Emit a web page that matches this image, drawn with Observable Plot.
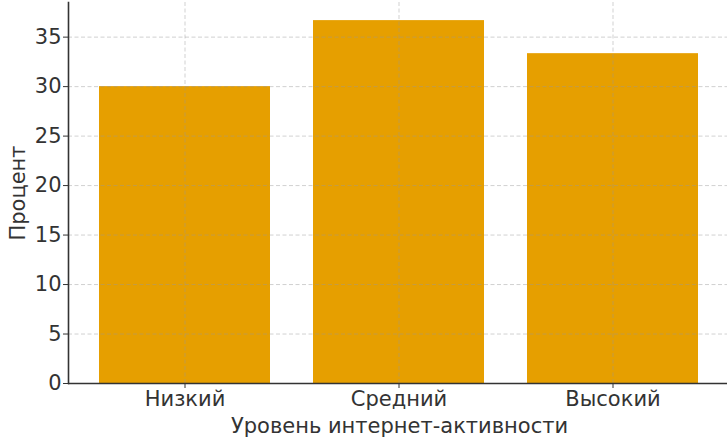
<!DOCTYPE html>
<html>
<head>
<meta charset="utf-8">
<script src="https://cdn.jsdelivr.net/npm/d3@7"></script>
<script src="https://cdn.jsdelivr.net/npm/@observablehq/plot@0.6"></script>
<style>
  html, body { margin: 0; padding: 0; background: #fff; overflow: hidden; }
  svg { display: block; }
</style>
</head>
<body>
<div id="chart"></div>
<script>
const categories = ["Низкий", "Средний", "Высокий"];
const values = [30.0, 36.67, 33.33];
const yTicks = [0, 5, 10, 15, 20, 25, 30, 35];
const xLabel = "Уровень интернет-активности";
const yLabel = "Процент";

const data = categories.map((c, i) => ({category: c, value: values[i]}));
const font = "DejaVu Sans, sans-serif";

const chart = Plot.plot({
  width: 727,
  height: 442,
  marginLeft: 68,
  marginRight: -3,
  marginTop: 2,
  marginBottom: 59,
  style: {fontFamily: font, fontSize: "21px", color: "#333", background: "#fff"},
  x: {type: "band", domain: categories, paddingInner: 0.2, paddingOuter: 0.14, label: null},
  y: {domain: [0, 38.5], label: null},
  marks: [
    Plot.barY(data, {x: "category", y: "value", fill: "#E69F00", inset: 0}),
    Plot.gridY(yTicks, {stroke: "#999", strokeOpacity: 0.45, strokeDasharray: "4,2.5", strokeWidth: 1}),
    Plot.gridX(categories, {stroke: "#999", strokeOpacity: 0.45, strokeDasharray: "4,2.5", strokeWidth: 1}),
    Plot.axisY(yTicks, {tickSize: 5, tickPadding: 2, stroke: "#333", fill: "#333", fontSize: 21}),
    Plot.axisX(categories, {tickSize: 5, tickPadding: 3, stroke: "#333", fill: "#333", fontSize: 21}),
    Plot.frame({anchor: "left", stroke: "#333", strokeWidth: 1.6}),
    Plot.ruleY([0], {stroke: "#333", strokeWidth: 1.6}),
    Plot.text([xLabel], {frameAnchor: "bottom", dy: 43, lineAnchor: "middle", fill: "#333", fontSize: 21}),
    Plot.text([yLabel], {frameAnchor: "left", dx: -50, rotate: -90, textAnchor: "middle", lineAnchor: "middle", fill: "#333", fontSize: 21})
  ]
});
document.getElementById("chart").appendChild(chart);
</script>
</body>
</html>
